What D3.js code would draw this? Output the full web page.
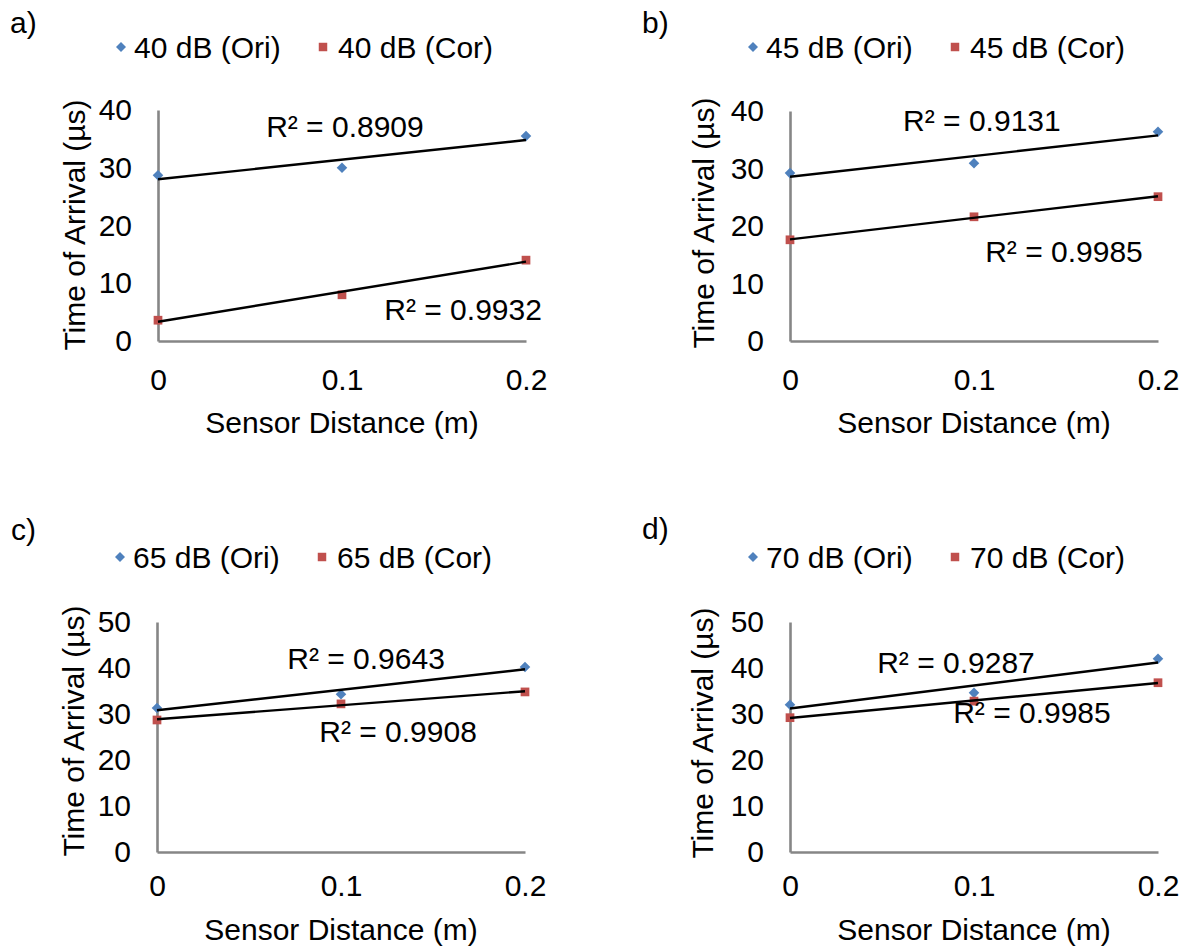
<!DOCTYPE html>
<html>
<head>
<meta charset="utf-8">
<script src="https://cdn.jsdelivr.net/npm/d3@7"></script>
<style>
  html, body { margin: 0; padding: 0; background: #fff; }
  svg { display: block; }
</style>
</head>
<body>
<svg id="chart" width="1184" height="950"></svg>
<script>
// ---------------- data ----------------
const panelLetters = ["a)", "b)", "c)", "d)"];
const sensorDistance = [0, 0.1, 0.2];
const xTickValues = [0, 0.1, 0.2];
const xTickLabels = ["0", "0.1", "0.2"];
const yTicksLow = [0, 10, 20, 30, 40];
const yTicksHigh = [0, 10, 20, 30, 40, 50];

const oriLabels = ["40 dB (Ori)", "45 dB (Ori)", "65 dB (Ori)", "70 dB (Ori)"];
const corLabels = ["40 dB (Cor)", "45 dB (Cor)", "65 dB (Cor)", "70 dB (Cor)"];

const ori40 = [28.7, 30.0, 35.5];
const cor40 = [3.6, 8.0, 14.0];
const ori45 = [29.2, 30.9, 36.4];
const cor45 = [17.6, 21.6, 25.1];
const ori65 = [31.3, 34.3, 40.2];
const cor65 = [28.7, 32.2, 34.8];
const ori70 = [32.0, 34.6, 42.0];
const cor70 = [29.2, 32.8, 36.8];

const r2OriText = ["R² = 0.8909", "R² = 0.9131", "R² = 0.9643", "R² = 0.9287"];
const r2CorText = ["R² = 0.9932", "R² = 0.9985", "R² = 0.9908", "R² = 0.9985"];

const xTitle = "Sensor Distance (m)";
const yTitle = "Time of Arrival (µs)";

// ---------------- layout / style ----------------
const FONT = "'Liberation Sans', Arial, Helvetica, sans-serif";
const FS = 30;
const BLUE = "#4F81BD", RED = "#C0504D", AXIS = "#868686";

const layout = [
  {left:158, right:526, top:110, bottom:341, yTicks:yTicksLow,  xPad:28, xTitleY:422, yTitleX:77,  yTitleY:225, legendY:47,  letterX:10,  letterY:22,
   oriLab:[0.1016, 37.06], corLab:[0.1658, 5.37]},
  {left:790, right:1158, top:111, bottom:341, yTicks:yTicksLow, xPad:28, xTitleY:422, yTitleX:706, yTitleY:223, legendY:47,  letterX:642, letterY:22,
   oriLab:[0.1043, 38.43], corLab:[0.1489, 15.48]},
  {left:157, right:525, top:622, bottom:852, yTicks:yTicksHigh, xPad:23, xTitleY:929, yTitleX:76,  yTitleY:731, legendY:557, letterX:11,  letterY:529,
   oriLab:[0.1136, 42.17], corLab:[0.1310, 26.09]},
  {left:790, right:1158, top:622, bottom:852, yTicks:yTicksHigh, xPad:23, xTitleY:929, yTitleX:705, yTitleY:733, legendY:557, letterX:642, letterY:528,
   oriLab:[0.0902, 41.09], corLab:[0.1315, 30.43]}
];

const oriSeries = [ori40, ori45, ori65, ori70];
const corSeries = [cor40, cor45, cor65, cor70];

// ---------------- helpers ----------------
function fit(xs, ys) {
  const n = xs.length;
  const mx = d3.mean(xs), my = d3.mean(ys);
  let sxy = 0, sxx = 0;
  for (let i = 0; i < n; i++) { sxy += (xs[i]-mx)*(ys[i]-my); sxx += (xs[i]-mx)*(xs[i]-mx); }
  const slope = sxy / sxx;
  return { slope, intercept: my - slope*mx };
}

const svg = d3.select("#chart");

layout.forEach((L, i) => {
  const g = svg.append("g");
  const yMax = d3.max(L.yTicks);
  const x = d3.scaleLinear().domain([0, 0.2]).range([L.left, L.right]);
  const y = d3.scaleLinear().domain([0, yMax]).range([L.bottom, L.top]);

  // panel letter
  g.append("text")
    .attr("x", L.letterX).attr("y", L.letterY).attr("dy", "0.35em")
    .attr("font-family", FONT).attr("font-size", FS).attr("fill", "#000")
    .text(panelLetters[i]);

  // legend
  const lg = g.append("g");
  lg.append("path")
    .attr("d", d3.symbol(d3.symbolSquare, 50)())
    .attr("transform", `translate(${L.left - 37},${L.legendY}) rotate(45)`)
    .attr("fill", BLUE);
  lg.append("text")
    .attr("x", L.left - 24).attr("y", L.legendY).attr("dy", "0.35em")
    .attr("font-family", FONT).attr("font-size", FS).attr("fill", "#000")
    .text(oriLabels[i]);
  lg.append("path")
    .attr("d", d3.symbol(d3.symbolSquare, 72)())
    .attr("transform", `translate(${L.left + 165},${L.legendY})`)
    .attr("fill", RED);
  lg.append("text")
    .attr("x", L.left + 180).attr("y", L.legendY).attr("dy", "0.35em")
    .attr("font-family", FONT).attr("font-size", FS).attr("fill", "#000")
    .text(corLabels[i]);

  // axes
  const yAxis = d3.axisLeft(y).tickValues(L.yTicks).tickSize(0).tickPadding(26).tickFormat(d3.format("d"));
  const xAxis = d3.axisBottom(x).tickValues(xTickValues).tickSize(0).tickPadding(L.xPad)
    .tickFormat((d, k) => xTickLabels[k]);

  const ya = g.append("g").attr("transform", `translate(${L.left},0)`).call(yAxis);
  const xa = g.append("g").attr("transform", `translate(0,${L.bottom})`).call(xAxis);
  [ya, xa].forEach(a => {
    a.select(".domain").attr("stroke", AXIS).attr("stroke-width", 2.6);
    a.selectAll("text").attr("font-family", FONT).attr("font-size", FS).attr("fill", "#000");
  });

  // axis titles
  g.append("text")
    .attr("x", (L.left + L.right) / 2).attr("y", L.xTitleY).attr("dy", "0.35em")
    .attr("text-anchor", "middle")
    .attr("font-family", FONT).attr("font-size", FS).attr("fill", "#000")
    .text(xTitle);
  g.append("text")
    .attr("transform", `translate(${L.yTitleX},${L.yTitleY}) rotate(-90)`)
    .attr("dy", "0.26em")
    .attr("text-anchor", "middle")
    .attr("font-family", FONT).attr("font-size", FS).attr("fill", "#000")
    .text(yTitle);

  // series
  const series = [
    {vals: oriSeries[i], color: BLUE, kind: "diamond", lab: r2OriText[i], pos: L.oriLab},
    {vals: corSeries[i], color: RED,  kind: "square",  lab: r2CorText[i], pos: L.corLab}
  ];
  series.forEach(s => {
    const f = fit(sensorDistance, s.vals);
    const pts = sensorDistance.map((d, k) => [d, s.vals[k]]);
    g.selectAll(null).data(pts).enter().append("path")
      .attr("d", s.kind === "diamond" ? d3.symbol(d3.symbolSquare, 56)() : d3.symbol(d3.symbolSquare, 76)())
      .attr("transform", d => `translate(${x(d[0])},${y(d[1])})` + (s.kind === "diamond" ? " rotate(45)" : ""))
      .attr("fill", s.color);
    const x0 = 0, x1 = 0.2;
    g.append("line")
      .attr("x1", x(x0)).attr("y1", y(f.intercept + f.slope*x0))
      .attr("x2", x(x1)).attr("y2", y(f.intercept + f.slope*x1))
      .attr("stroke", "#000").attr("stroke-width", 2.4);
    g.append("text")
      .attr("x", x(s.pos[0])).attr("y", y(s.pos[1])).attr("dy", "0.35em")
      .attr("text-anchor", "middle")
      .attr("font-family", FONT).attr("font-size", FS).attr("fill", "#000")
      .text(s.lab);
  });
});
</script>
</body>
</html>
